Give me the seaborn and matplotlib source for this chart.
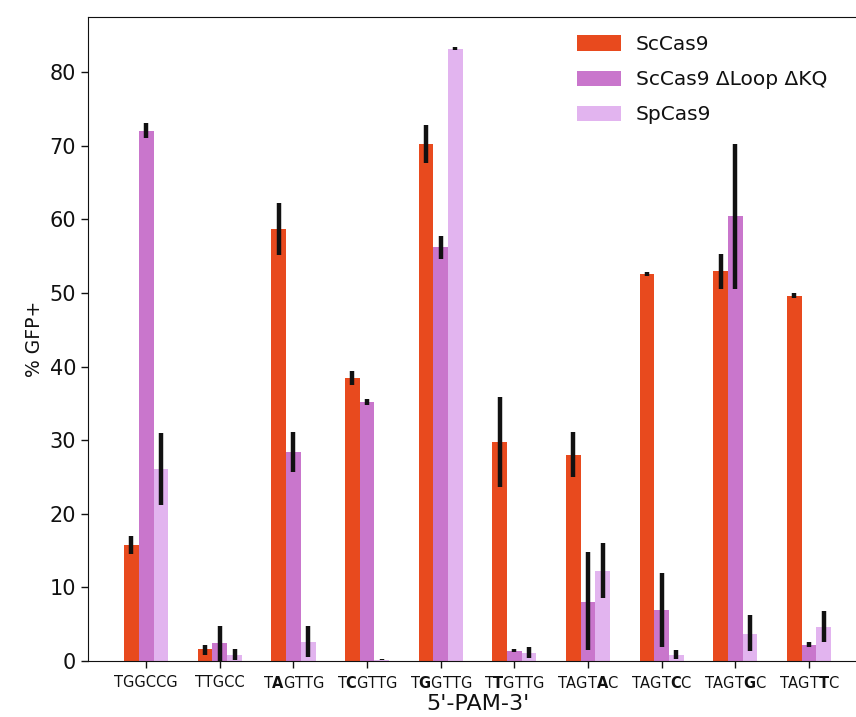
import numpy as np
import pandas as pd
import seaborn as sns
import matplotlib.pyplot as plt

# %%
pams = ["TGGCCG", "TTGCC", r"T$\mathbf{A}$GTTG", r"T$\mathbf{C}$GTTG", r"T$\mathbf{G}$GTTG",
        r"T$\mathbf{T}$GTTG", r"TAGT$\mathbf{A}$C", r"TAGT$\mathbf{C}$C", r"TAGT$\mathbf{G}$C",
        r"TAGT$\mathbf{T}$C"]
enzymes = ["ScCas9", "ScCas9 ΔLoop ΔKQ", "SpCas9"]

sc_mean = [15.8, 1.6, 58.7, 38.4, 70.2, 29.8, 28.0, 52.6, 53.0, 49.6]
sc_lo = [14.6, 0.8, 55.1, 37.5, 67.6, 23.7, 25.0, 52.3, 50.5, 49.3]
sc_hi = [17.0, 2.2, 62.2, 39.4, 72.8, 35.9, 31.1, 52.9, 55.3, 50.0]

loop_mean = [72.0, 2.4, 28.4, 35.2, 56.2, 1.4, 8.0, 6.9, 60.5, 2.2]
loop_lo = [71.0, 0.0, 25.7, 34.8, 54.6, 1.2, 1.5, 1.9, 50.5, 1.9]
loop_hi = [73.1, 4.8, 31.1, 35.6, 57.8, 1.6, 14.8, 12.0, 70.3, 2.6]

sp_mean = [26.1, 0.8, 2.6, 0.2, 83.2, 1.1, 12.2, 0.8, 3.7, 4.6]
sp_lo = [21.2, 0.2, 0.6, 0.1, 83.0, 0.4, 8.6, 0.3, 1.4, 2.6]
sp_hi = [31.0, 1.6, 4.7, 0.3, 83.4, 1.9, 16.0, 1.5, 6.2, 6.8]

colors = ["#e84a1e", "#c976cc", "#e2b4ef"]

# %%
df = pd.DataFrame({
    "pam": pams * 3,
    "enzyme": np.repeat(enzymes, len(pams)),
    "gfp": sc_mean + loop_mean + sp_mean,
    "lo": sc_lo + loop_lo + sp_lo,
    "hi": sc_hi + loop_hi + sp_hi,
})

sns.set_style("ticks")
plt.rcParams.update({"text.color": "#111111", "axes.labelcolor": "#111111",
                     "xtick.color": "#111111", "ytick.color": "#111111",
                     "axes.edgecolor": "#111111"})
fig = plt.figure(figsize=(8.56, 7.17), dpi=100)
ax = fig.add_axes([0.1028, 0.0781, 0.9101, 0.8982])

sns.barplot(data=df, x="pam", y="gfp", hue="enzyme", hue_order=enzymes,
            palette=colors, errorbar=None, width=0.6, saturation=1,
            linewidth=0, ax=ax)

# error bars on top of each bar, in patch order (hue-major)
for patch, (_, row) in zip(ax.patches, df.iterrows()):
    xc = patch.get_x() + patch.get_width() / 2
    ax.errorbar(xc, row["gfp"],
                yerr=[[row["gfp"] - row["lo"]], [row["hi"] - row["gfp"]]],
                fmt="none", ecolor="#111111", elinewidth=3.2, capsize=0)

ax.set_xlim(-0.79, 9.79)
ax.set_ylim(0, 87.5)
ax.set_yticks(range(0, 81, 10))
ax.tick_params(axis="y", labelsize=15, length=5, width=1)
ax.tick_params(axis="x", labelsize=10.5, length=5, width=1, pad=5)
ax.set_xlabel("5'-PAM-3'", fontsize=16, labelpad=2)
ax.set_ylabel("% GFP+", fontsize=13.5)

ax.legend(loc="upper left", bbox_to_anchor=(0.604, 1.0), frameon=False,
          fontsize=14.5, handlelength=2.2, handleheight=0.8,
          labelspacing=0.8, handletextpad=0.75)

fig.savefig("out.png", dpi=100)
